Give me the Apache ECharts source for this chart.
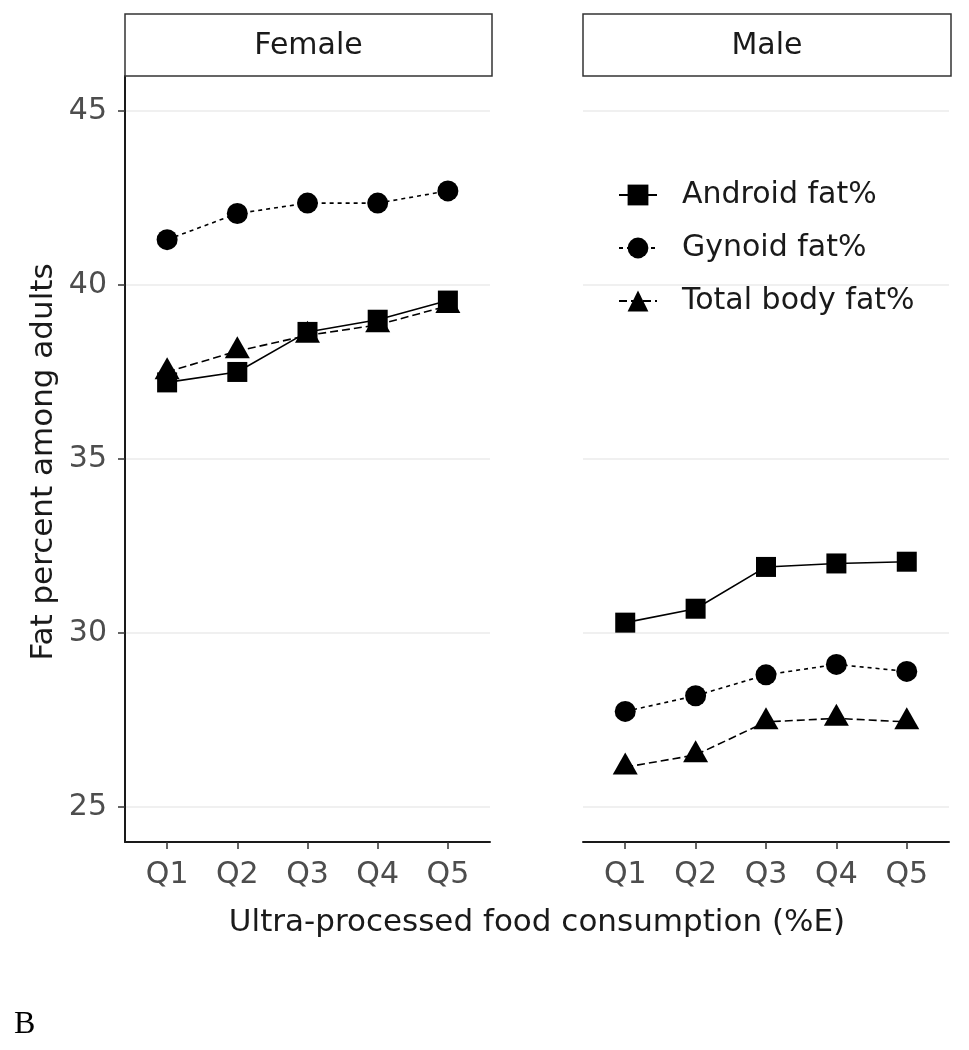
<!DOCTYPE html>
<html>
<head>
<meta charset="utf-8">
<script src="https://cdn.jsdelivr.net/npm/echarts@6/dist/echarts.min.js"></script>
<style>
html,body{margin:0;padding:0;background:#fff;}
#c{width:969px;height:1050px;}
</style>
</head>
<body>
<div id="c"></div>
<script>
// ---- data ----
const quintiles = ['Q1','Q2','Q3','Q4','Q5'];
const panels = ['Female','Male'];
const measures = ['Android fat%','Gynoid fat%','Total body fat%'];
const yTicks = [25,30,35,40,45];

const femaleAndroid = [37.2, 37.5, 38.65, 39.0, 39.55];
const femaleGynoid  = [41.3, 42.05, 42.35, 42.35, 42.7];
const femaleTotal   = [37.5, 38.1, 38.55, 38.85, 39.4];

const maleAndroid = [30.3, 30.7, 31.9, 32.0, 32.05];
const maleGynoid  = [27.75, 28.2, 28.8, 29.1, 28.9];
const maleTotal   = [26.15, 26.5, 27.45, 27.55, 27.45];

const xTitle = 'Ultra-processed food consumption (%E)';
const yTitle = 'Fat percent among adults';
const panelTag = 'B';

// ---- build ----
const FONT = 'DejaVu Sans';
const xPos = quintiles.map((q,i)=>i+1);
const toPts = arr => arr.map((v,i)=>[xPos[i], v]);

const styles = {
  'Android fat%':    {symbol:'rect', symbolSize:20, symbolOffset:[0,0], line:'solid'},
  'Gynoid fat%':     {symbol:'circle', symbolSize:21, symbolOffset:[0,0], line:[4,4]},
  'Total body fat%': {symbol:'triangle', symbolSize:[25,22], symbolOffset:[0,-3.7], line:[8,4]}
};

const panelData = [
  [femaleAndroid, femaleGynoid, femaleTotal],
  [maleAndroid, maleGynoid, maleTotal]
];

const series = [];
panelData.forEach((sets, p) => {
  sets.forEach((arr, m) => {
    const st = styles[measures[m]];
    series.push({
      name: measures[m],
      type: 'line',
      xAxisIndex: p, yAxisIndex: p,
      data: toPts(arr),
      symbol: st.symbol,
      symbolSize: st.symbolSize,
      symbolOffset: st.symbolOffset,
      showSymbol: true,
      silent: true,
      z: 3,
      itemStyle: {color:'#000', borderWidth:0},
      lineStyle: {color:'#000', width:1.6, type: st.line},
      animation: false
    });
  });
});

const xAxisBase = (gi) => ({
  type: 'value', gridIndex: gi, min: 0.4, max: 5.6,
  axisLine: {show:true, lineStyle:{color:'#1a1a1a', width:2}},
  axisTick: {show:true, customValues: xPos, length:7, lineStyle:{color:'#333', width:1.5}},
  axisLabel: {show:true, customValues: xPos, margin:18,
    formatter: v => quintiles[Math.round(v)-1] || '',
    fontFamily: FONT, fontSize: 30, color:'#4d4d4d'},
  splitLine: {show:false}
});

const yAxisBase = (gi, showAxis) => ({
  type: 'value', gridIndex: gi, min: 24, max: 46,
  axisLine: {show: showAxis, lineStyle:{color:'#1a1a1a', width:2}},
  axisTick: {show: showAxis, customValues: yTicks, length:7, lineStyle:{color:'#333', width:1.5}},
  axisLabel: {show: showAxis, customValues: yTicks, margin:18,
    fontFamily: FONT, fontSize: 30, color:'#4d4d4d'},
  splitLine: {show:true, lineStyle:{color:'#ebebeb', width:1.5}}
});

const strip = (x, w, label) => ([
  {type:'rect', shape:{x:x, y:14, width:w, height:62},
   style:{fill:'#fff', stroke:'#333', lineWidth:1.5}, z:10},
  {type:'text', x: x + w/2, y: 46,
   style:{text: label, fill:'#1a1a1a', font: '30px "' + FONT + '"', align:'center', verticalAlign:'middle'}, z:11}
]);

const option = {
  backgroundColor: '#fff',
  animation: false,
  grid: [
    {left:125, top:76, width:365, height:766},
    {left:583, top:76, width:366, height:766}
  ],
  xAxis: [xAxisBase(0), xAxisBase(1)],
  yAxis: [yAxisBase(0, true), yAxisBase(1, false)],
  legend: {
    data: measures,
    orient: 'vertical',
    left: 613, top: 175,
    itemWidth: 38, itemHeight: 26,
    itemGap: 23,
    textStyle: {fontFamily: FONT, fontSize: 30, color:'#1a1a1a', lineHeight:30, padding:[0,0,0,20]},
    selectedMode: false
  },
  series: series,
  graphic: [
    ...strip(125, 367, panels[0]),
    ...strip(583, 368, panels[1]),
    {type:'text', x: 537, y: 923,
     style:{text: xTitle, fill:'#1a1a1a', font:'31px "' + FONT + '"', align:'center', verticalAlign:'middle'}},
    {type:'text', x: 44, y: 462, rotation: Math.PI/2,
     style:{text: yTitle, fill:'#1a1a1a', font:'31px "' + FONT + '"', align:'center', verticalAlign:'middle'}},
    {type:'text', x: 14, y: 1025,
     style:{text: panelTag, fill:'#000', font:'32px "Liberation Serif"', align:'left', verticalAlign:'middle'}}
  ]
};

const chart = echarts.init(document.getElementById('c'), null, {renderer:'canvas'});
chart.setOption(option);
</script>
</body>
</html>
